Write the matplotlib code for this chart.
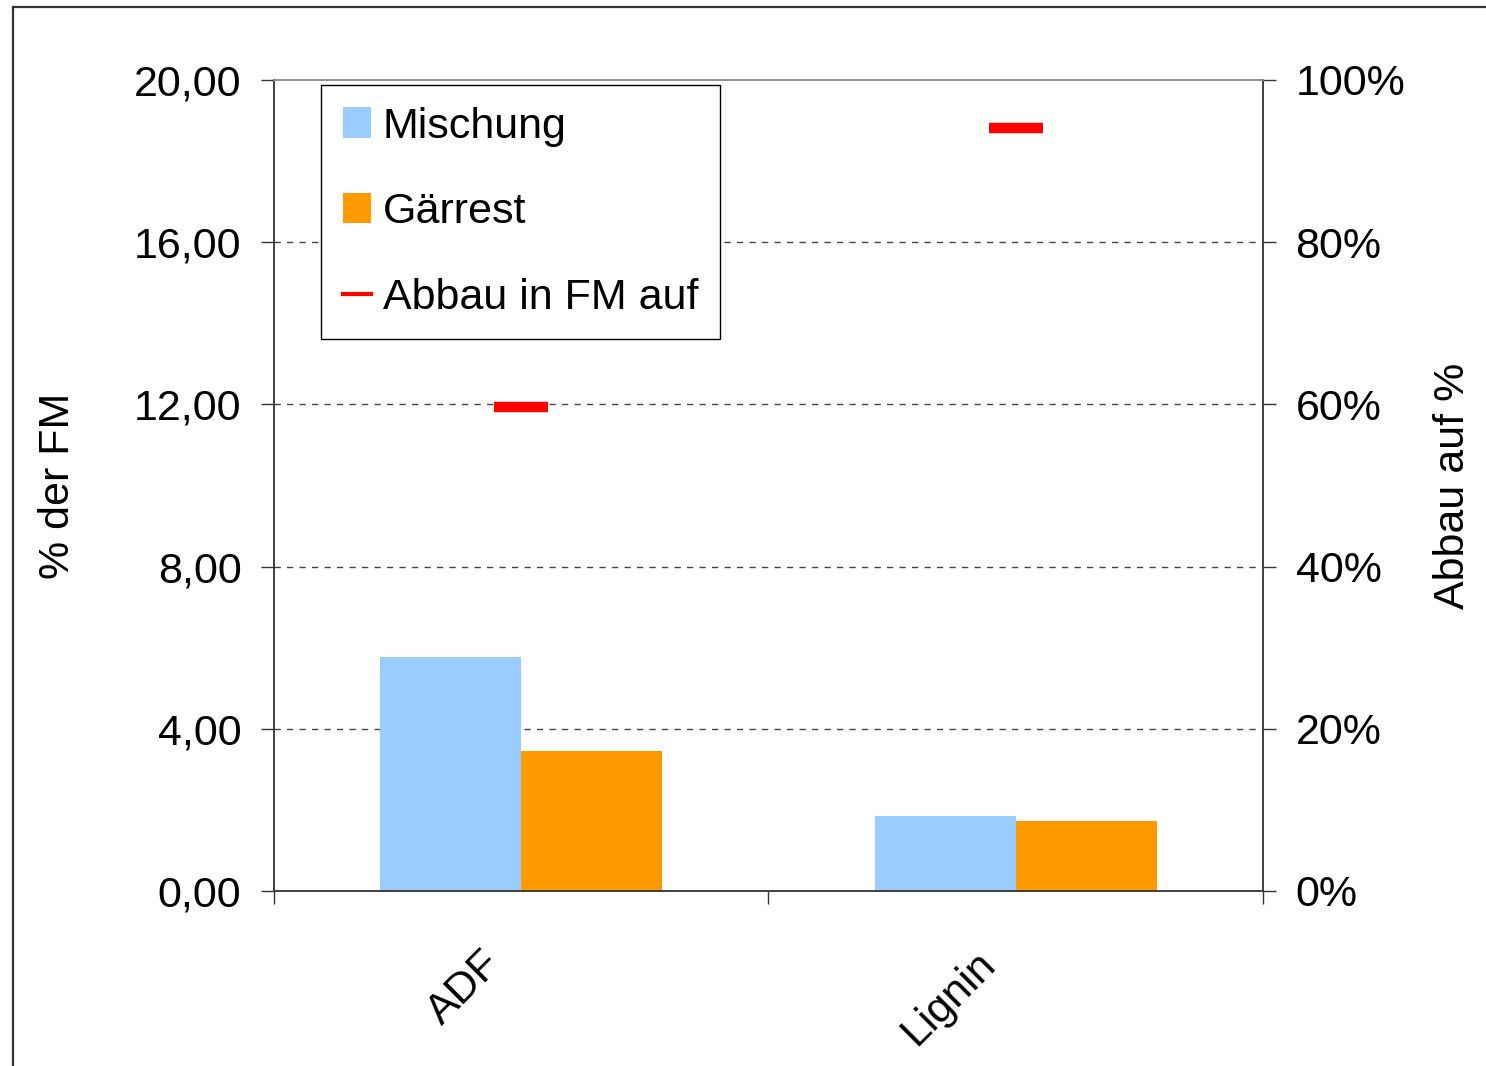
"""Fibre fractions in substrate mix and digestate, with degradation share."""

import matplotlib

matplotlib.use("Agg")
import matplotlib.pyplot as plt
import numpy as np
from matplotlib.lines import Line2D
from matplotlib.patches import Patch
from matplotlib.ticker import FixedLocator, FuncFormatter, NullFormatter

plt.rcParams["font.family"] = ["Liberation Sans", "DejaVu Sans"]

categories = ["ADF", "Lignin"]
mischung = [5.77, 1.85]
gaerrest = [3.45, 1.73]
abbau = [0.597, 0.941]

FS = 31
BLUE = "#99CCFF"
ORANGE = "#FF9900"
RED = "#FF0000"

fig = plt.figure(figsize=(14.86, 10.66), dpi=100)
ax = fig.add_axes([0.1844, 0.1642, 0.6655, 0.7608])
ax2 = ax.twinx()

x = np.arange(len(categories))
width = 0.285
ax.bar(x - width / 2, mischung, width, color=BLUE, linewidth=0, zorder=2)
ax.bar(x + width / 2, gaerrest, width, color=ORANGE, linewidth=0, zorder=2)

ax2.plot(x, abbau, linestyle="none", marker="_", markersize=39,
         markeredgewidth=7.5, color=RED, zorder=3)

ax.set_xlim(-0.5, 1.5)
ax.set_ylim(0, 20)
ax2.set_ylim(0, 1)

ax.set_yticks(np.arange(0, 21, 4))
ax.yaxis.set_major_formatter(FuncFormatter(lambda v, _: f"{v:.2f}".replace(".", ",")))
ax2.set_yticks(np.arange(0, 1.01, 0.2))
ax2.yaxis.set_major_formatter(FuncFormatter(lambda v, _: f"{v * 100:.0f}%"))

for yv in np.arange(4, 20, 4):
    ax.axhline(yv, color="#444444", linewidth=1.0, linestyle=(0, (4.5, 4.5)), zorder=1)

# category labels, slanted and slightly left of the group centre
ax.set_xticks(x)
ax.xaxis.set_major_formatter(NullFormatter())
for xi, cat in zip(x, categories):
    ax.annotate(cat, xy=(xi, 0), xycoords=("data", "axes fraction"),
                xytext=(-19, -48), textcoords="offset points", fontsize=FS,
                rotation=45, ha="right", va="center", rotation_mode="anchor",
                annotation_clip=False)
ax.xaxis.set_minor_locator(FixedLocator([-0.5, 0.5, 1.5]))
ax.tick_params(axis="x", which="major", length=0)
ax.tick_params(axis="x", which="minor", length=9, width=1, color="#333333")
ax.tick_params(axis="y", length=9.5, width=1, color="#333333", pad=14, labelsize=FS)
ax2.tick_params(axis="y", length=9.5, width=1, color="#333333", pad=14, labelsize=FS)

for sp in ("left", "bottom"):
    ax.spines[sp].set_color("#333333")
    ax.spines[sp].set_linewidth(1.3)
ax2.spines["right"].set_color("#333333")
ax2.spines["right"].set_linewidth(1.3)
ax2.spines["top"].set_color("#888888")
ax2.spines["top"].set_linewidth(1.3)
ax.spines["top"].set_visible(False)
ax.spines["right"].set_visible(False)
ax2.spines["left"].set_visible(False)
ax2.spines["bottom"].set_visible(False)

ax.set_ylabel("% der FM", fontsize=FS, labelpad=40)
ax2.set_ylabel("Abbau auf %", fontsize=FS, labelpad=20)

handles = [
    Patch(facecolor=BLUE, edgecolor="none"),
    Patch(facecolor=ORANGE, edgecolor="none"),
    Line2D([], [], color=RED, linewidth=3),
]
labels = ["Mischung", "Gärrest", "Abbau in FM auf"]
leg = ax2.legend(handles, labels, loc="upper left", bbox_to_anchor=(0.0475, 0.9938),
                 borderaxespad=0, fontsize=FS, frameon=True, fancybox=False,
                 edgecolor="black", framealpha=1, handlelength=0.65,
                 handleheight=0.7, handletextpad=0.28, labelspacing=1.06,
                 borderpad=0.5)
leg.get_frame().set_linewidth(1.0)

# outer chart border (left and top edges)
fig.add_artist(Line2D([13 / 1486, 13 / 1486], [0, 1 - 7 / 1066],
                      transform=fig.transFigure, color="#333333", linewidth=1.6))
fig.add_artist(Line2D([13 / 1486, 1], [1 - 7 / 1066, 1 - 7 / 1066],
                      transform=fig.transFigure, color="#333333", linewidth=1.6))

fig.savefig("out.png", dpi=100)
